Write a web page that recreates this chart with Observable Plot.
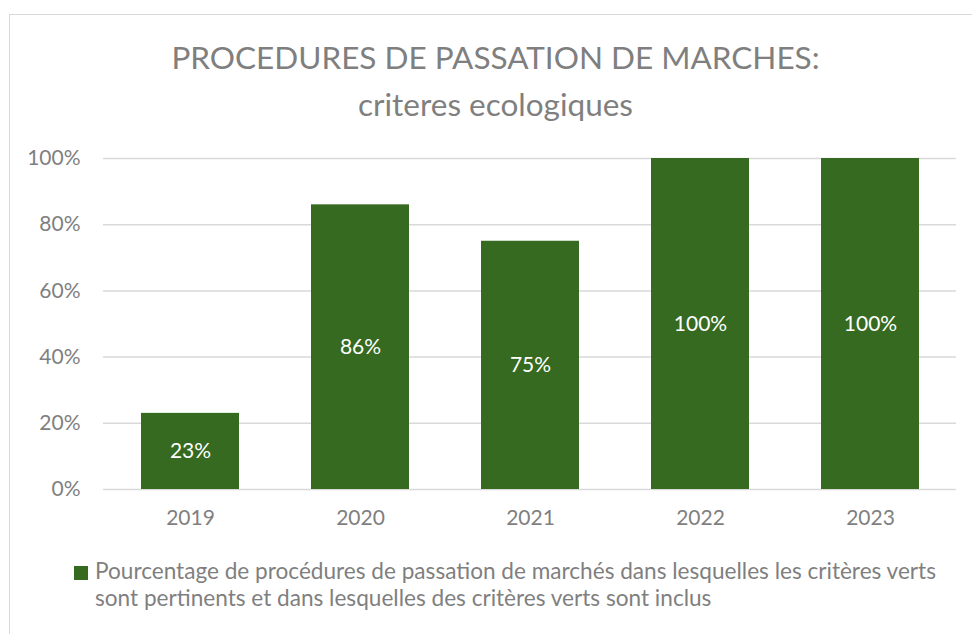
<!DOCTYPE html>
<html>
<head>
<meta charset="utf-8">
<script src="https://cdn.jsdelivr.net/npm/d3@7"></script>
<script src="https://cdn.jsdelivr.net/npm/@observablehq/plot@0.6"></script>
<style>
  html, body { margin: 0; padding: 0; background: #ffffff; }
  #wrap { position: relative; width: 972px; height: 634px; overflow: hidden; background: #ffffff; font-family: Lato, "Open Sans", sans-serif; color: #7f7f7f; }
  #frame { position: absolute; left: 9px; top: 14px; width: 1000px; height: 700px; border: 1.5px solid #d9d9d9; box-sizing: border-box; }
  #title { position: absolute; left: 9px; width: 973px; top: 34px; text-align: center; font-size: 31.5px; line-height: 47px; color: #7f7f7f; }
  #chart { position: absolute; left: 0; top: 130px; }
  #legend { position: absolute; left: 74px; top: 557px; width: 880px; }
  #legend .sw { position: absolute; left: 0; top: 9px; width: 14px; height: 14px; }
  #legend .lbl { position: absolute; left: 21px; top: 0; width: 848px; font-size: 22.6px; line-height: 27px; color: #7f7f7f; }
</style>
</head>
<body>
<div id="wrap">
  <div id="frame"></div>
  <div id="title"></div>
  <div id="chart"></div>
  <div id="legend"><div class="sw"></div><div class="lbl"></div></div>
</div>
<script>
const titleLines = ["PROCEDURES DE PASSATION DE MARCHES:", "criteres ecologiques"];
const years = ["2019", "2020", "2021", "2022", "2023"];
const values = [0.23, 0.86, 0.75, 1.00, 1.00];
const yTicks = [0, 0.2, 0.4, 0.6, 0.8, 1.0];
const seriesLabel = "Pourcentage de procédures de passation de marchés dans lesquelles les critères verts sont pertinents et dans lesquelles des critères verts sont inclus";
const barColor = "#356a20";

const data = years.map((y, i) => ({year: y, value: values[i]}));
const pct = d3.format(".0%");

document.getElementById("title").innerHTML = titleLines.map(t => `<div>${t}</div>`).join("");
document.querySelector("#legend .sw").style.background = barColor;
document.querySelector("#legend .lbl").textContent = seriesLabel;

const chart = Plot.plot({
  width: 972,
  height: 404,
  marginLeft: 103,
  marginRight: 16,
  marginTop: 28,
  marginBottom: 45,
  style: {fontFamily: "Lato, 'Open Sans', sans-serif", fontSize: "21px", color: "#7f7f7f", background: "transparent", overflow: "visible"},
  x: {domain: years, padding: 0, label: null, tickSize: 0, tickPadding: 21},
  y: {domain: [0, 1], ticks: yTicks, tickFormat: pct, label: null, tickSize: 0, tickPadding: 23},
  marks: [
    Plot.gridY(yTicks, {stroke: "#d9d9d9", strokeOpacity: 1, strokeWidth: 1.5}),
    Plot.barY(data, {x: "year", y: "value", fill: barColor, insetLeft: 36, insetRight: 36}),
    Plot.text(data, {x: "year", y: d => d.value / 2, text: d => pct(d.value), fill: "white", fontSize: 21})
  ]
});
document.getElementById("chart").appendChild(chart);
</script>
</body>
</html>
